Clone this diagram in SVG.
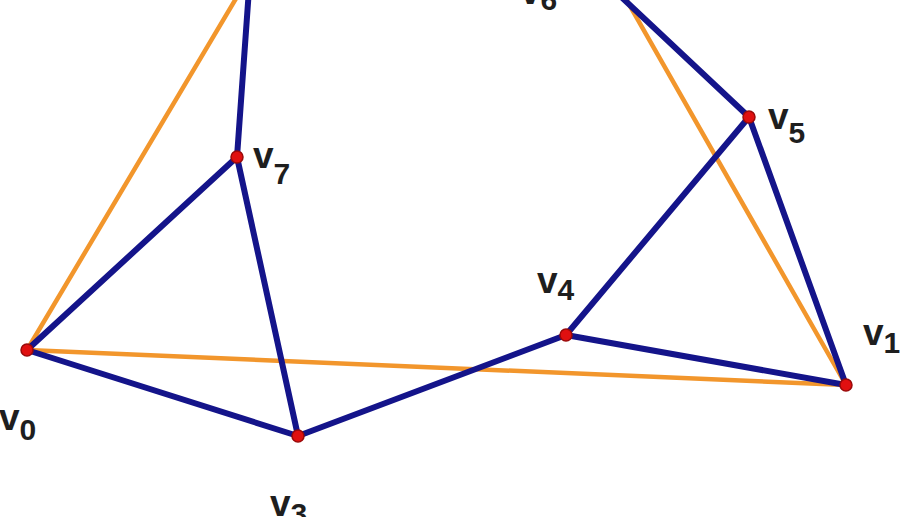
<svg xmlns="http://www.w3.org/2000/svg" width="918" height="517" viewBox="0 0 918 517">
<style>
.b{stroke:#14148a;stroke-width:6;stroke-linecap:round;fill:none}
.o{stroke:#f2962c;stroke-width:4.5;stroke-linecap:round;fill:none}
.d{fill:#e01010;stroke:#9a0a0a;stroke-width:1.5}
.l{font-family:"Liberation Sans",Arial,sans-serif;font-weight:bold;fill:#1e1e1e;font-size:37px}
.s{font-size:30px}
</style>
<rect width="918" height="517" fill="#ffffff"/>
<g id="connectors">
<line class="o" x1="27" y1="350" x2="250" y2="-25"/>
<line class="o" x1="27" y1="350" x2="846" y2="385"/>
<line class="o" x1="622" y1="-8" x2="846" y2="385"/>
<line class="b" x1="250" y1="-25" x2="237" y2="157"/>
<line class="b" x1="237" y1="157" x2="27" y2="350"/>
<line class="b" x1="237" y1="157" x2="298" y2="436"/>
<line class="b" x1="27" y1="350" x2="298" y2="436"/>
<line class="b" x1="298" y1="436" x2="566" y2="335"/>
<line class="b" x1="566" y1="335" x2="749" y2="117"/>
<line class="b" x1="566" y1="335" x2="846" y2="385"/>
<line class="b" x1="749" y1="117" x2="846" y2="385"/>
<line class="b" x1="616" y1="-8" x2="749" y2="117"/>
</g>
<g id="v0"><circle class="d" cx="27" cy="350" r="6"/><text class="l" x="-1" y="430">v<tspan class="s" dy="10">0</tspan></text></g>
<g id="v1"><circle class="d" cx="846" cy="385" r="6"/><text class="l" x="863" y="345">v<tspan class="s" dy="8">1</tspan></text></g>
<g id="v3"><circle class="d" cx="298" cy="436" r="6"/><text class="l" x="270" y="516">v<tspan class="s" dy="8">3</tspan></text></g>
<g id="v4"><circle class="d" cx="566" cy="335" r="6"/><text class="l" x="537" y="293">v<tspan class="s" dy="7">4</tspan></text></g>
<g id="v5"><circle class="d" cx="749" cy="117" r="6"/><text class="l" x="768" y="129">v<tspan class="s" dy="14">5</tspan></text></g>
<g id="v6"><text class="l" x="520" y="4">v<tspan class="s" dy="6">6</tspan></text></g>
<g id="v7"><circle class="d" cx="237" cy="157" r="6"/><text class="l" x="253" y="168">v<tspan class="s" dy="16">7</tspan></text></g>
</svg>
